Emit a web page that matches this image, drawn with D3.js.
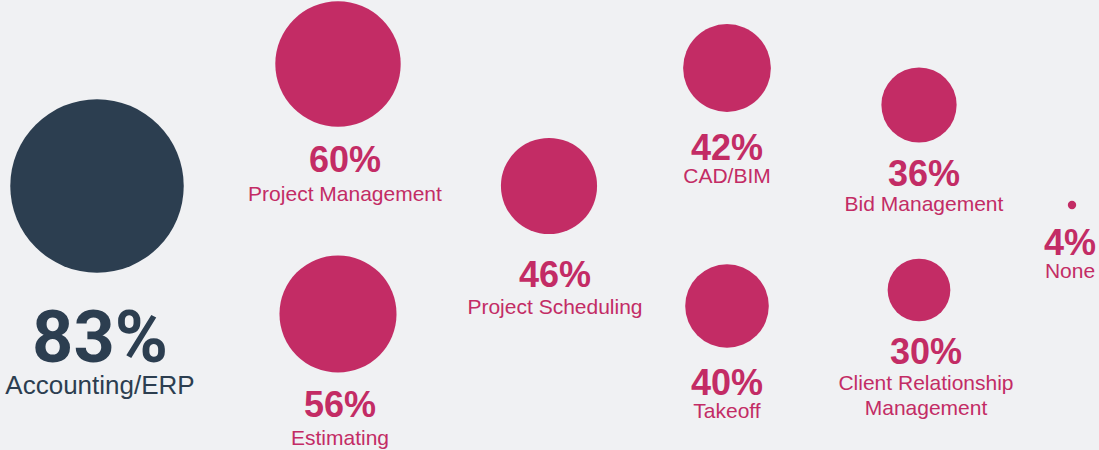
<!DOCTYPE html>
<html>
<head>
<meta charset="utf-8">
<script src="https://cdn.jsdelivr.net/npm/d3@7"></script>
<style>
  html, body { margin: 0; padding: 0; background: #f0f1f3; }
  svg { display: block; }
</style>
</head>
<body>
<script>
// Share of respondents using each kind of software
const categories = [
  "Accounting/ERP",
  "Project Management",
  "Estimating",
  "Project Scheduling",
  "CAD/BIM",
  "Takeoff",
  "Bid Management",
  "Client Relationship Management",
  "None"
];
const values = [83, 60, 56, 46, 42, 40, 36, 30, 4];
const labelLines = [
  ["Accounting/ERP"],
  ["Project Management"],
  ["Estimating"],
  ["Project Scheduling"],
  ["CAD/BIM"],
  ["Takeoff"],
  ["Bid Management"],
  ["Client Relationship", "Management"],
  ["None"]
];

// layout of the infographic: circle centre, text centre,
// baseline of the % figure (ty) and of the first name line (ly)
const layout = {
  "Accounting/ERP":                 { x: 97,   cy: 186, tx: 100,  ty: 362, ly: 394 },
  "Project Management":             { x: 338,  cy: 64,  tx: 345,  ty: 172, ly: 201 },
  "Estimating":                     { x: 338,  cy: 314, tx: 340,  ty: 417, ly: 445 },
  "Project Scheduling":             { x: 549,  cy: 186, tx: 555,  ty: 287, ly: 314 },
  "CAD/BIM":                        { x: 727,  cy: 68,  tx: 727,  ty: 160, ly: 183 },
  "Takeoff":                        { x: 727,  cy: 306, tx: 727,  ty: 395, ly: 418 },
  "Bid Management":                 { x: 919,  cy: 105, tx: 924,  ty: 186, ly: 211 },
  "Client Relationship Management": { x: 919,  cy: 290, tx: 926,  ty: 364, ly: 390 },
  "None":                           { x: 1072, cy: 205, tx: 1070, ty: 255, ly: 278 }
};

const width = 1099;
const height = 450;
const navy = "#2c3e50";
const pink = "#c32c65";

const data = categories.map((c, i) => ({
  name: c,
  value: values[i],
  lines: labelLines[i],
  lead: i === 0
}));

// radius is linear in the percentage
const r = d3.scaleLinear().domain([0, 100]).range([0, 104.5]);

const svg = d3
  .select("body")
  .append("svg")
  .attr("width", width)
  .attr("height", height);

const item = svg
  .selectAll(".item")
  .data(data)
  .enter()
  .append("g")
  .attr("class", "item");

item
  .append("circle")
  .attr("cx", (d) => layout[d.name].x)
  .attr("cy", (d) => layout[d.name].cy)
  .attr("r", (d) => r(d.value))
  .attr("fill", (d) => (d.lead ? navy : pink));

// big percentage
item
  .append("text")
  .attr("x", (d) => layout[d.name].tx)
  .attr("y", (d) => layout[d.name].ty)
  .attr("text-anchor", "middle")
  .attr("fill", (d) => (d.lead ? navy : pink))
  .style("font-family", (d) => (d.lead ? "Roboto, sans-serif" : "'Liberation Sans', Arial, sans-serif"))
  .style("font-weight", "bold")
  .style("font-size", (d) => (d.lead ? "72px" : "36px"))
  .text((d) => d.value + "%");

// category name
item
  .append("text")
  .attr("text-anchor", "middle")
  .attr("fill", (d) => (d.lead ? navy : pink))
  .style("font-family", "'Liberation Sans', Arial, sans-serif")
  .style("font-size", (d) => (d.lead ? "26px" : "21px"))
  .each(function (d) {
    const t = d3.select(this);
    d.lines.forEach((line, k) => {
      t.append("tspan")
        .attr("x", layout[d.name].tx)
        .attr("y", layout[d.name].ly + k * 24.5)
        .text(line);
    });
  });
</script>
</body>
</html>
